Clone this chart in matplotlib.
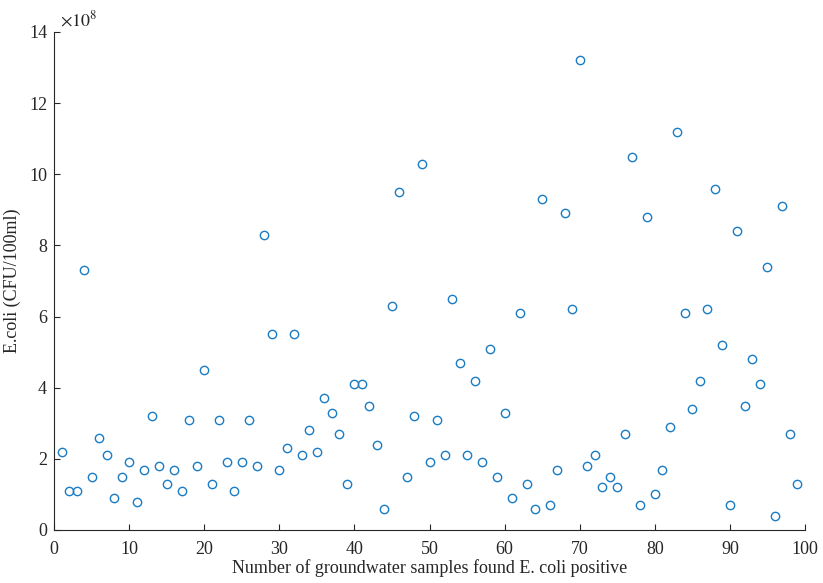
import matplotlib
matplotlib.use("Agg")
import matplotlib.pyplot as plt
import numpy as np

samples = list(range(1, 100))
ecoli_e8 = [2.2, 1.1, 1.1, 7.3, 1.5, 2.6, 2.1, 0.9, 1.5, 1.9,
            0.8, 1.7, 3.2, 1.8, 1.3, 1.7, 1.1, 3.1, 1.8, 4.5,
            1.3, 3.1, 1.9, 1.1, 1.9, 3.1, 1.8, 8.3, 5.5, 1.7,
            2.3, 5.5, 2.1, 2.8, 2.2, 3.7, 3.3, 2.7, 1.3, 4.1,
            4.1, 3.5, 2.4, 0.6, 6.3, 9.5, 1.5, 3.2, 10.3, 1.9,
            3.1, 2.1, 6.5, 4.7, 2.1, 4.2, 1.9, 5.1, 1.5, 3.3,
            0.9, 6.1, 1.3, 0.6, 9.3, 0.7, 1.7, 8.9, 6.2, 13.2,
            1.8, 2.1, 1.2, 1.5, 1.2, 2.7, 10.5, 0.7, 8.8, 1.0,
            1.7, 2.9, 11.2, 6.1, 3.4, 4.2, 6.2, 9.6, 5.2, 0.7,
            8.4, 3.5, 4.8, 4.1, 7.4, 0.4, 9.1, 2.7, 1.3]
xticks = [0, 10, 20, 30, 40, 50, 60, 70, 80, 90, 100]
yticks = [0, 2, 4, 6, 8, 10, 12, 14]

plt.rcParams['font.family'] = ['Liberation Serif', 'DejaVu Serif']
plt.rcParams['mathtext.fontset'] = 'stix'

fig = plt.figure(figsize=(8.23, 5.83), dpi=100)
ax = fig.add_axes([54/823, 1-530/583, (805-54)/823, (530-32)/583])

ax.plot(samples, ecoli_e8, linestyle='none', marker='o', markersize=6,
        markerfacecolor='none', markeredgecolor='#1a7cc4', markeredgewidth=1.0)

ax.set_xlim(0, 100)
ax.set_ylim(0, 14)
ax.set_xticks(xticks)
ax.set_yticks(yticks)
ax.spines['top'].set_visible(False)
ax.spines['right'].set_visible(False)
for s in ['left', 'bottom']:
    ax.spines[s].set_color('#262626')
    ax.spines[s].set_linewidth(0.8)
ax.tick_params(direction='in', length=4, width=0.8, colors='#262626',
               labelsize=13, labelcolor='#262626')
ax.tick_params(axis='x', pad=8)
ax.tick_params(axis='y', pad=5)
ax.set_xlabel('Number of groundwater samples found E. coli positive', fontsize=13,
              color='#262626', labelpad=1)
ax.set_ylabel('E.coli (CFU/100ml)', fontsize=13, color='#262626', labelpad=6)
ax.text(0.008, 1.005, r'$\times10^{8}$', transform=ax.transAxes, fontsize=13,
        color='#262626', ha='left', va='bottom')

fig.savefig('out.png', dpi=100)
